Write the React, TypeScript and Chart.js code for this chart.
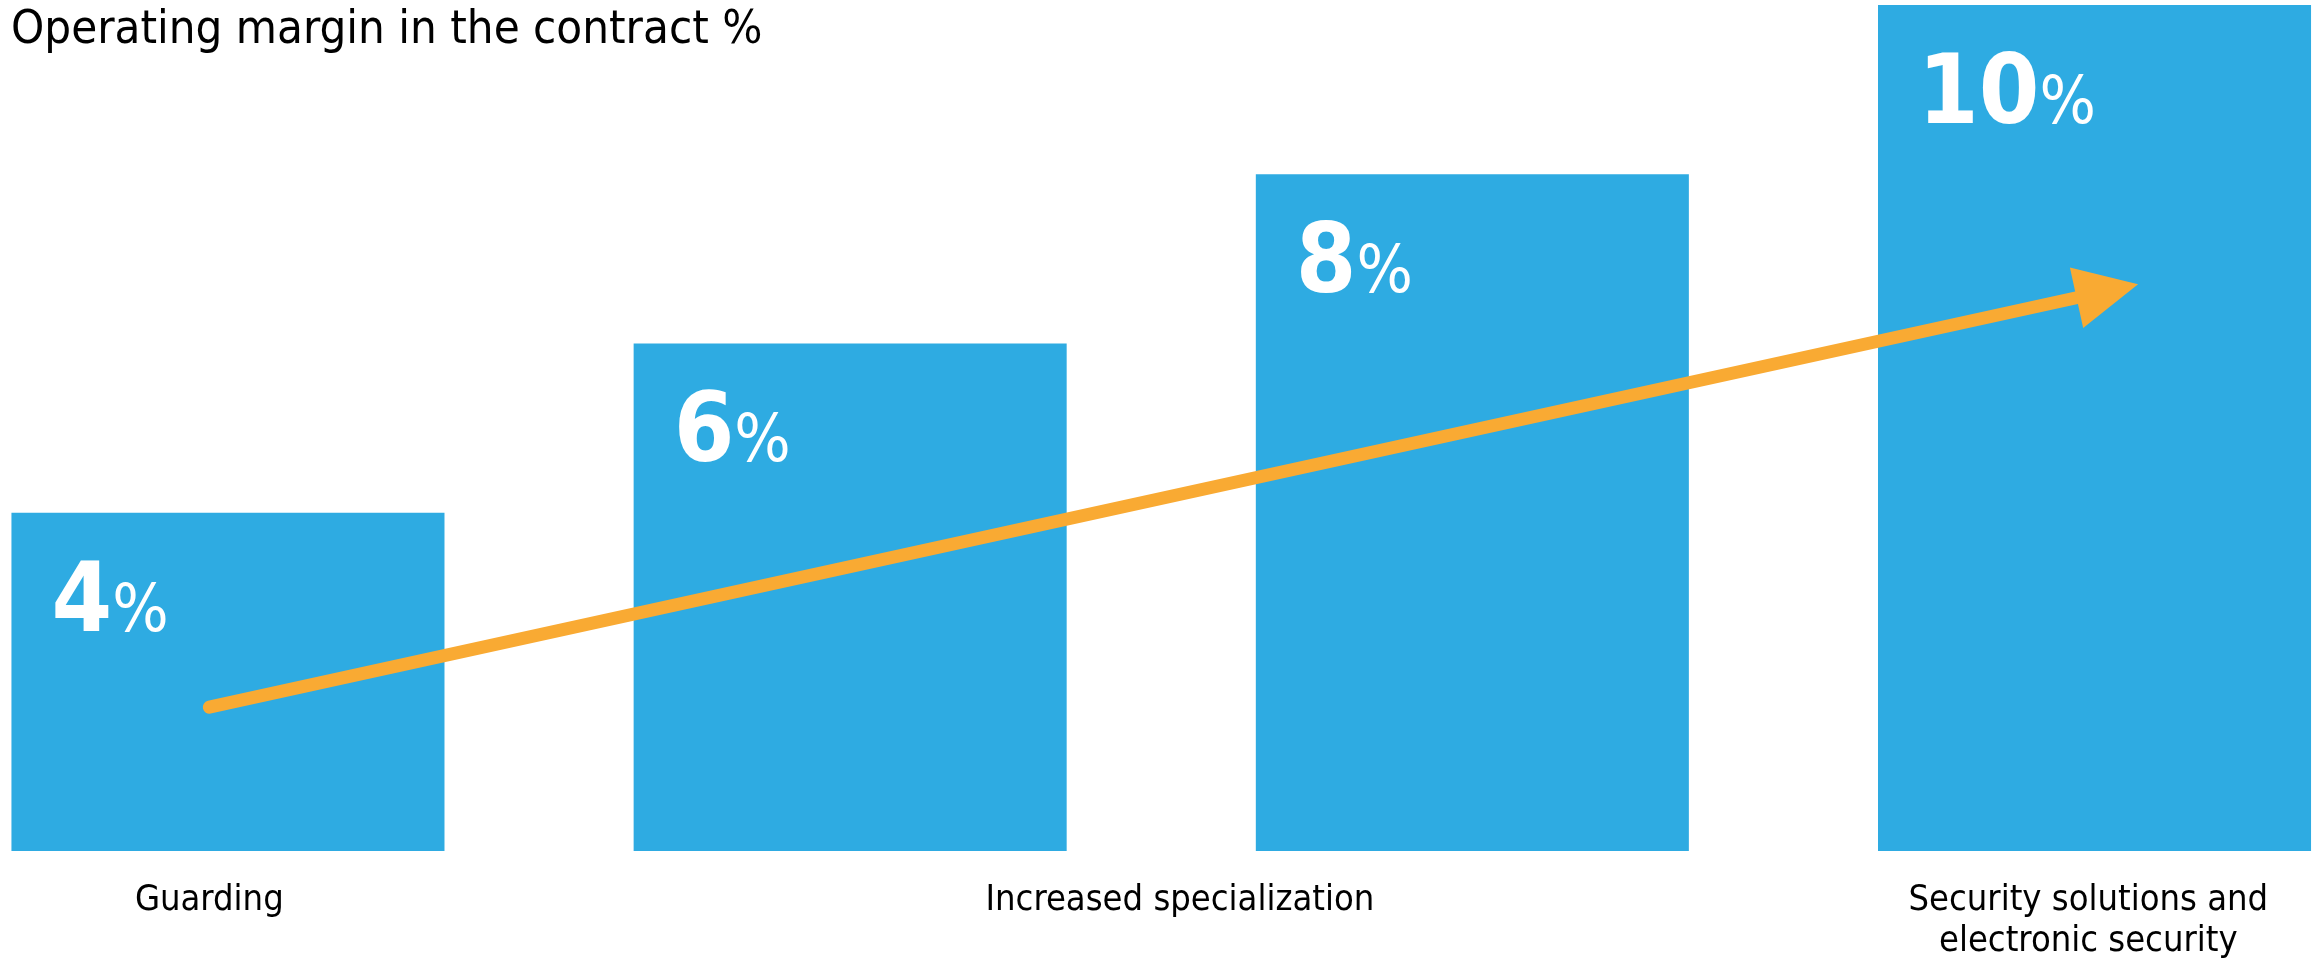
import { useEffect, useRef } from "react";
import { Chart, registerables } from "chart.js";

Chart.register(...registerables);

// bar positions on the x scale and the margin (%) for each bar
const barPositions = [0, 1, 2, 3];
const margins = [4, 6, 8, 10];

// x axis labels, placed where they sit under the bars
const tickPositions = [-0.03, 1.53, 2.99];
const tickLabels: (string | string[])[] = [
  "Guarding",
  "Increased specialization",
  ["Security solutions and", "electronic security"],
];

// trend arrow, start and tip in data values
const arrowX = [-0.03, 3.07];
const arrowY = [1.7, 6.7];

const BLUE = "#2eabe2";
const ORANGE = "#f9aa33";
const FONT = "'DejaVu Sans Condensed', 'DejaVu Sans', sans-serif";

const trendArrow = {
  id: "trendArrow",
  afterDatasetsDraw(chart: any) {
    const { ctx } = chart;
    const { x, y } = chart.scales;
    const x0 = x.getPixelForValue(arrowX[0]);
    const y0 = y.getPixelForValue(arrowY[0]);
    const x1 = x.getPixelForValue(arrowX[1]);
    const y1 = y.getPixelForValue(arrowY[1]);
    const ang = Math.atan2(y1 - y0, x1 - x0);
    const cos = Math.cos(ang);
    const sin = Math.sin(ang);
    const headLen = 63;
    const headHalf = 31;
    const bx = x1 - headLen * cos;
    const by = y1 - headLen * sin;

    ctx.save();
    ctx.strokeStyle = ORANGE;
    ctx.fillStyle = ORANGE;
    ctx.lineWidth = 13;
    ctx.lineCap = "round";
    ctx.beginPath();
    ctx.moveTo(x0, y0);
    ctx.lineTo(bx, by);
    ctx.stroke();

    ctx.beginPath();
    ctx.moveTo(x1, y1);
    ctx.lineTo(bx + headHalf * sin, by - headHalf * cos);
    ctx.lineTo(bx - headHalf * sin, by + headHalf * cos);
    ctx.closePath();
    ctx.fill();
    ctx.restore();
  },
};

const valueLabels = {
  id: "valueLabels",
  afterDatasetsDraw(chart: any) {
    const { ctx } = chart;
    const meta = chart.getDatasetMeta(0);
    ctx.save();
    ctx.fillStyle = "#ffffff";
    ctx.textAlign = "left";
    ctx.textBaseline = "alphabetic";
    meta.data.forEach((bar: any, i: number) => {
      const left = bar.x - bar.width / 2 + 40;
      const base = bar.y + 118;
      const txt = String(margins[i]);
      ctx.font = `bold 97px ${FONT}`;
      ctx.fillText(txt, left, base);
      const w = ctx.measureText(txt).width;
      ctx.font = `66px ${FONT}`;
      ctx.fillText("%", left + w, base);
    });
    ctx.restore();
  },
};

function MarginChart() {
  const canvasRef = useRef<HTMLCanvasElement>(null);
  const chartRef = useRef<Chart | null>(null);

  useEffect(() => {
    if (!canvasRef.current) return;
    if (chartRef.current) chartRef.current.destroy();

    chartRef.current = new Chart(canvasRef.current, {
      type: "bar",
      data: {
        datasets: [
          {
            label: "Operating margin",
            data: barPositions.map((p, i) => ({ x: p, y: margins[i] })),
            backgroundColor: BLUE,
            borderWidth: 0,
            categoryPercentage: 1,
            barPercentage: 0.696,
          },
        ],
      },
      options: {
        animation: false,
        responsive: true,
        maintainAspectRatio: false,
        layout: { padding: 0 },
        plugins: {
          legend: { display: false },
          tooltip: { enabled: false },
        },
        scales: {
          x: {
            type: "linear",
            offset: false,
            min: -0.3664,
            max: 3.364,
            grid: { display: false, drawTicks: false, offset: false },
            border: { display: false },
            afterBuildTicks: (scale: any) => {
              scale.ticks = tickPositions.map((v) => ({ value: v }));
            },
            afterFit: (scale: any) => {
              scale.height = 114;
            },
            ticks: {
              autoSkip: false,
              maxRotation: 0,
              minRotation: 0,
              padding: 29,
              color: "#000000",
              font: { family: FONT, size: 36, lineHeight: 41 / 36 },
              callback: (_v: any, i: number) => tickLabels[i],
            },
          },
          y: {
            display: false,
            min: 0,
            max: 10.06,
          },
        },
      },
      plugins: [trendArrow, valueLabels],
    } as any);

    return () => {
      if (chartRef.current) {
        chartRef.current.destroy();
        chartRef.current = null;
      }
    };
  }, []);

  return (
    <div
      style={{
        position: "absolute",
        left: 0,
        top: 0,
        width: 2321,
        height: 965,
        background: "#ffffff",
      }}
    >
      <canvas ref={canvasRef} />
      <div
        style={{
          position: "absolute",
          left: 11,
          top: 3,
          fontFamily: FONT,
          fontSize: 47,
          lineHeight: 1,
          color: "#000000",
          whiteSpace: "nowrap",
        }}
      >
        Operating margin in the contract %
      </div>
    </div>
  );
}

export default function App() {
  return <MarginChart />;
}
